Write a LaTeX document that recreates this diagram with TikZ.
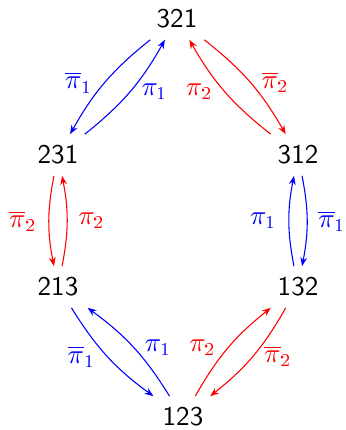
\documentclass[tikz,border=0pt]{standalone}
\usepackage{sfmath}
\usetikzlibrary{arrows.meta,positioning}

\begin{document}
\begin{tikzpicture}[
    x=0.37pt, y=-0.37pt,
    font=\sffamily,
    perm/.style={
        inner sep=4pt,
        font=\sffamily
    },
    move/.style={
        -{Stealth[length=3.3pt,width=2.5pt]},
        thin,
        bend angle=11
    },
    lbl/.style={
        font=\sffamily,
        inner sep=4pt
    }
]
\useasboundingbox (0,0) rectangle (345,430);

% --- permutations ---
\node[perm] (p321) at (177,19) {321};
\node[perm] (p231) at (58,155) {231};
\node[perm] (p312) at (298,155) {312};
\node[perm] (p213) at (58,287) {213};
\node[perm] (p132) at (298,287) {132};
\node[perm] (p123) at (183,417) {123};

% --- left side (blue / red) ---
\draw[move, blue, bend right] (p321) to node[lbl, left] {$\overline{\pi}_1$} (p231);
\draw[move, blue, bend right] (p231) to node[lbl, right] {$\pi_1$} (p321);
\draw[move, red, bend right] (p231) to node[lbl, left] {$\overline{\pi}_2$} (p213);
\draw[move, red, bend right] (p213) to node[lbl, right] {$\pi_2$} (p231);
\draw[move, blue, bend right] (p213) to node[lbl, left] {$\overline{\pi}_1$} (p123);
\draw[move, blue, bend right] (p123) to node[lbl, right] {$\pi_1$} (p213);

% --- right side (red / blue) ---
\draw[move, red, bend left] (p312) to node[lbl, left] {$\pi_2$} (p321);
\draw[move, red, bend left] (p321) to node[lbl, right] {$\overline{\pi}_2$} (p312);
\draw[move, blue, bend left] (p132) to node[lbl, left] {$\pi_1$} (p312);
\draw[move, blue, bend left] (p312) to node[lbl, right] {$\overline{\pi}_1$} (p132);
\draw[move, red, bend left] (p123) to node[lbl, left] {$\pi_2$} (p132);
\draw[move, red, bend left] (p132) to node[lbl, right] {$\overline{\pi}_2$} (p123);

\end{tikzpicture}
\end{document}
